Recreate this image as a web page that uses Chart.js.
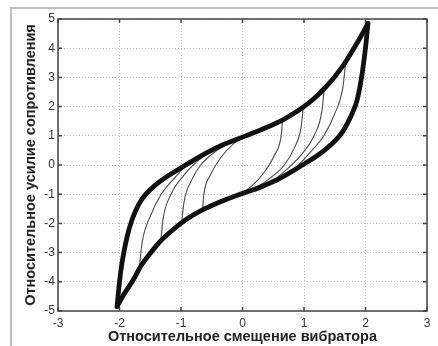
<!DOCTYPE html>
<html>
<head>
<meta charset="utf-8">
<script src="https://cdn.jsdelivr.net/npm/chart.js@4.4.0/dist/chart.umd.min.js"></script>
<style>
  body { margin: 0; background: #fff; }
  canvas { display: block; }
</style>
</head>
<body>
<canvas id="graph" width="438" height="346"></canvas>
<script>
// outer loop (thick line): [displacement, force]
const upperBranch = [[-2.04,-4.85],[-2.01,-4.2],[-1.97,-3.5],[-1.93,-3.0],[-1.87,-2.4],[-1.80,-1.9],
  [-1.66,-1.25],[-1.40,-0.66],[-0.97,-0.06],[-0.6,0.4],[-0.29,0.72],[0.03,0.98],[0.35,1.25],
  [0.65,1.54],[0.92,1.88],[1.15,2.25],[1.33,2.62],[1.49,3.0],[1.65,3.45],[1.77,3.85],[1.91,4.35],[2.04,4.85]];
const lowerBranch = [[2.04,4.85],[2.01,4.2],[1.97,3.5],[1.92,2.8],[1.86,2.2],[1.79,1.8],[1.62,1.12],
  [1.34,0.52],[0.96,-0.02],[0.6,-0.47],[0.3,-0.75],[-0.04,-1.0],[-0.35,-1.25],[-0.65,-1.54],
  [-0.94,-1.9],[-1.15,-2.25],[-1.34,-2.62],[-1.49,-3.0],[-1.65,-3.45],[-1.78,-3.95],[-1.92,-4.4],[-2.04,-4.85]];

// inner loops (thin lines), going down on the right
const downA = [[0.65,1.54],[0.63,1.03],[0.52,0.34],[0.36,-0.23],[0.14,-0.74],[-0.06,-1.0]];
const downB = [[0.99,1.99],[0.95,1.26],[0.84,0.57],[0.68,0.0],[0.41,-0.51],[0.14,-0.87]];
const downC = [[1.33,2.62],[1.29,1.83],[1.17,1.03],[0.95,0.34],[0.72,-0.15],[0.45,-0.62]];
const downD = [[1.68,3.55],[1.63,2.63],[1.49,1.71],[1.33,1.03],[1.06,0.34],[0.85,-0.15]];
// and going up on the left
const upA = [[-0.65,-1.54],[-0.63,-1.03],[-0.52,-0.34],[-0.36,0.23],[-0.14,0.74],[0.06,1.0]];
const upB = [[-0.99,-1.99],[-0.95,-1.26],[-0.84,-0.57],[-0.68,0.0],[-0.41,0.51],[-0.14,0.87]];
const upC = [[-1.33,-2.62],[-1.29,-1.83],[-1.17,-1.03],[-0.95,-0.34],[-0.72,0.15],[-0.45,0.62]];
const upD = [[-1.68,-3.55],[-1.63,-2.63],[-1.49,-1.71],[-1.33,-1.03],[-1.06,-0.34],[-0.85,0.15]];

const xTicks = [-3, -2, -1, 0, 1, 2, 3];
const yTicks = [-5, -4, -3, -2, -1, 0, 1, 2, 3, 4, 5];
const xTitle = 'Относительное смещение вибратора';
const yTitle = 'Относительное усилие сопротивления';

Chart.defaults.font.family = "'Liberation Sans', Arial, sans-serif";

const pts = arr => arr.map(p => ({x: p[0], y: p[1]}));

function thick(arr) {
  return {data: pts(arr), showLine: true, borderColor: '#111', borderWidth: 4.8,
    pointRadius: 0, cubicInterpolationMode: 'monotone', fill: false, order: 0,
    borderCapStyle: 'round'};
}
function thin(arr) {
  return {data: pts(arr), showLine: true, borderColor: '#4a4a4a', borderWidth: 1.1,
    pointRadius: 0, cubicInterpolationMode: 'monotone', fill: false, order: 1};
}

// gray outer frame + axes box with inward ticks
const frame = {
  id: 'frame',
  beforeDraw(chart) {
    const ctx = chart.ctx;
    ctx.save();
    ctx.fillStyle = '#fff';
    ctx.fillRect(0, 0, chart.width, chart.height);
    ctx.strokeStyle = '#bdbdbd';
    ctx.lineWidth = 2;
    ctx.beginPath();
    ctx.moveTo(11, chart.height);
    ctx.lineTo(11, 8);
    ctx.lineTo(chart.width, 8);
    ctx.stroke();
    ctx.restore();
  },
  afterDraw(chart) {
    const {ctx, chartArea: a, scales: {x, y}} = chart;
    ctx.save();
    ctx.strokeStyle = '#444';
    ctx.lineWidth = 1.5;
    ctx.strokeRect(a.left, a.top, a.right - a.left, a.bottom - a.top);
    ctx.beginPath();
    x.ticks.forEach(t => {
      const px = x.getPixelForValue(t.value);
      ctx.moveTo(px, a.top); ctx.lineTo(px, a.top + 4);
      ctx.moveTo(px, a.bottom); ctx.lineTo(px, a.bottom - 4);
    });
    y.ticks.forEach(t => {
      const py = y.getPixelForValue(t.value);
      ctx.moveTo(a.left, py); ctx.lineTo(a.left + 4, py);
      ctx.moveTo(a.right, py); ctx.lineTo(a.right - 4, py);
    });
    ctx.stroke();
    ctx.restore();
  }
};

const graph = document.getElementById('graph').getContext('2d');
new Chart(graph, {
  type: 'scatter',
  data: {
    datasets: [
      thick(upperBranch), thick(lowerBranch),
      thin(downA), thin(downB), thin(downC), thin(downD),
      thin(upA), thin(upB), thin(upC), thin(upD)
    ]
  },
  options: {
    responsive: false,
    animation: false,
    layout: {padding: {top: 19, right: 11, bottom: 0, left: 0}},
    plugins: {legend: {display: false}, tooltip: {enabled: false}},
    scales: {
      x: {
        type: 'linear', min: -3, max: 3,
        afterBuildTicks: s => { s.ticks = xTicks.map(v => ({value: v})); },
        afterFit: s => { s.height = 35; },
        ticks: {padding: 5, color: '#333', font: {size: 12}},
        grid: {color: '#c4c4c4', drawTicks: false},
        border: {display: false, dash: [1, 2]},
        title: {display: true, text: xTitle, color: '#222',
          font: {size: 14.5, weight: 'bold'}, padding: {top: 0, bottom: 0}}
      },
      y: {
        type: 'linear', min: -5, max: 5,
        afterBuildTicks: s => { s.ticks = yTicks.map(v => ({value: v})); },
        afterFit: s => { s.width = 58; },
        ticks: {padding: 3, color: '#333', font: {size: 12}},
        grid: {color: '#c4c4c4', drawTicks: false},
        border: {display: false, dash: [1, 2]},
        title: {display: true, text: yTitle, color: '#222',
          font: {size: 14.5, weight: 'bold'}, padding: {top: 22, bottom: 0}}
      }
    }
  },
  plugins: [frame]
});
</script>
</body>
</html>
